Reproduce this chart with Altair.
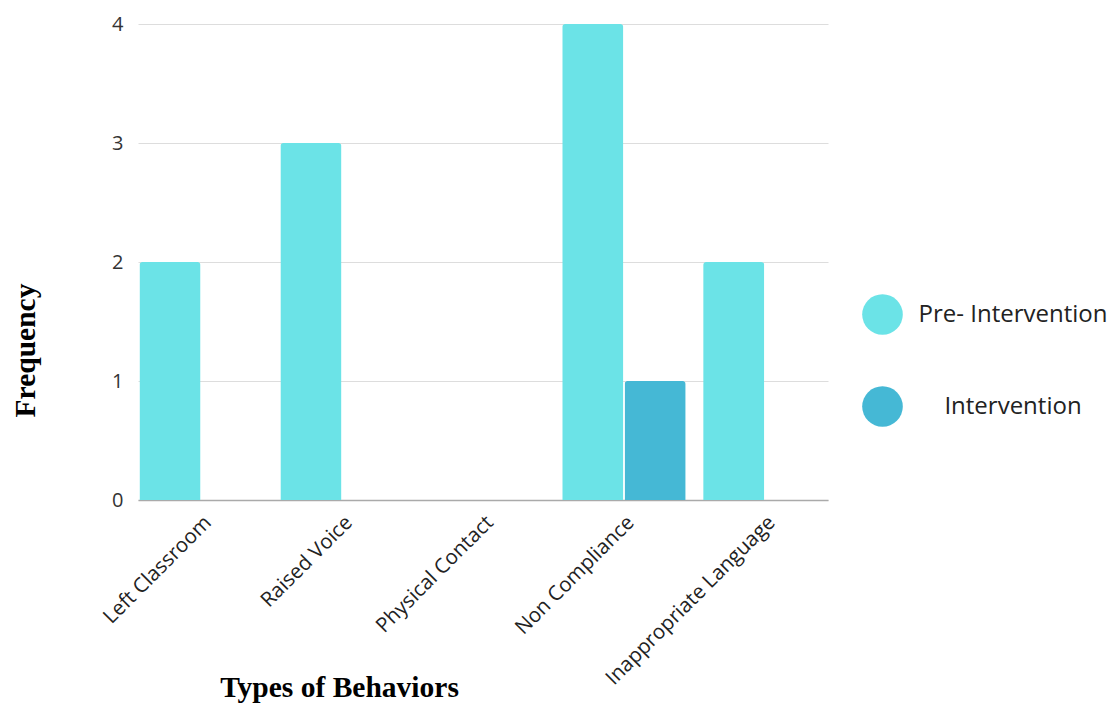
import altair as alt
import pandas as pd

# Behavior categories and observed frequencies per phase
behaviors = ["Left Classroom", "Raised Voice", "Physical Contact",
             "Non Compliance", "Inappropriate Language"]
phases = ["Pre- Intervention", "Intervention"]
pre_values = [2, 3, 0, 4, 2]
intervention_values = [0, 0, 0, 1, 0]
y_ticks = [0, 1, 2, 3, 4]
colors = ["#6BE3E7", "#45B8D5"]

rows = []
for b, pv, iv in zip(behaviors, pre_values, intervention_values):
    rows.append({"Behavior": b, "Phase": phases[0], "Frequency": pv})
    rows.append({"Behavior": b, "Phase": phases[1], "Frequency": iv})
df = pd.DataFrame(rows)

bars = alt.Chart(df).mark_bar(cornerRadiusTopLeft=3, cornerRadiusTopRight=3).encode(
    x=alt.X(
        "Behavior:N",
        sort=behaviors,
        scale=alt.Scale(paddingInner=0.124, paddingOuter=0.01),
        axis=alt.Axis(
            title="Types of Behaviors",
            labelAngle=-45,
            labelAlign="right",
            labelBaseline="top",
            labelPadding=12,
            labelFont="Open Sans",
            labelFontSize=20.5,
            labelColor="#222222",
            labelLimit=400,
            ticks=False,
            domainColor="#aaaaaa",
            domainWidth=1.5,
            grid=False,
            titleFont="Liberation Serif",
            titleFontWeight="bold",
            titleFontSize=29.5,
            titleColor="#000000",
            titleX=201,
            titleY=196,
            titleAlign="center",
            titleBaseline="alphabetic",
            titleAnchor="start",
        ),
    ),
    xOffset=alt.XOffset("Phase:N", sort=phases, scale=alt.Scale(paddingInner=0.02)),
    y=alt.Y(
        "Frequency:Q",
        scale=alt.Scale(domain=[0, 4], nice=False),
        axis=alt.Axis(
            values=y_ticks,
            format="d",
            title="Frequency",
            labelFont="Open Sans",
            labelFontSize=20,
            labelColor="#333333",
            labelPadding=15,
            ticks=False,
            domain=False,
            gridColor="#dddddd",
            gridWidth=1,
            titleFont="Liberation Serif",
            titleFontWeight="bold",
            titleFontSize=29.5,
            titleColor="#000000",
            titleAngle=-90,
            titleX=-113,
            titleY=326,
            titleAlign="center",
            titleBaseline="middle",
        ),
    ),
    color=alt.Color(
        "Phase:N",
        sort=phases,
        scale=alt.Scale(domain=phases, range=colors),
        legend=alt.Legend(
            title=None,
            orient="none",
            legendX=724,
            legendY=270,
            symbolType="circle",
            symbolSize=1650,
            symbolStrokeWidth=0,
            symbolOpacity=1,
            labelFont="Open Sans",
            labelFontSize=24,
            labelColor="#222222",
            labelAlign="center",
            labelOffset=110,
            labelLimit=400,
            rowPadding=51,
            padding=0,
        ),
    ),
).properties(
    width=690,
    height=476,
    background="white",
    autosize=alt.AutoSizeParams(type="none"),
    padding={"left": 138, "top": 24, "right": 291, "bottom": 204},
).configure_view(strokeWidth=0, stroke=None)

chart = bars
chart.save("out.html", embed_options={"renderer": "svg", "actions": False})
